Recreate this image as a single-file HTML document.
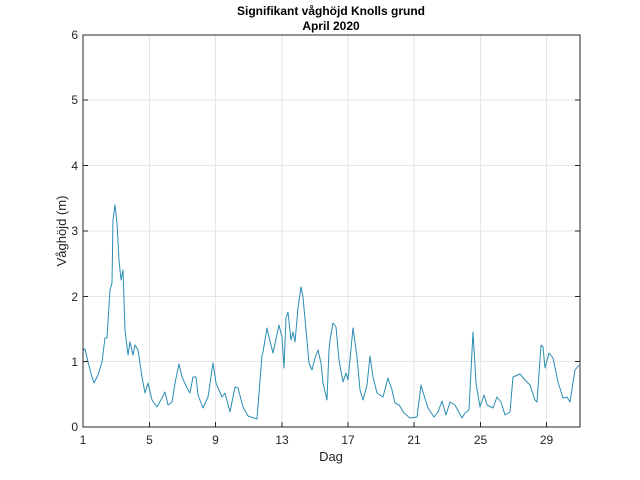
<!DOCTYPE html>
<html><head><meta charset="utf-8"><style>
body{margin:0;background:#fff;}
svg{display:block;font-family:"Liberation Sans",Arial,sans-serif;}
</style></head><body>
<svg width="640" height="480" viewBox="0 0 640 480">
<rect width="640" height="480" fill="#fff"/>
<g stroke="#e6e6e6" stroke-width="1">
<line x1="149.5" y1="35" x2="149.5" y2="427"/>
<line x1="215.5" y1="35" x2="215.5" y2="427"/>
<line x1="282" y1="35" x2="282" y2="427"/>
<line x1="348" y1="35" x2="348" y2="427"/>
<line x1="414" y1="35" x2="414" y2="427"/>
<line x1="480.5" y1="35" x2="480.5" y2="427"/>
<line x1="546.5" y1="35" x2="546.5" y2="427"/>
<line x1="83" y1="361.5" x2="580" y2="361.5"/>
<line x1="83" y1="296.5" x2="580" y2="296.5"/>
<line x1="83" y1="231" x2="580" y2="231"/>
<line x1="83" y1="165.5" x2="580" y2="165.5"/>
<line x1="83" y1="100" x2="580" y2="100"/>
</g>
<polyline fill="none" stroke="#2a8db2" stroke-width="1" stroke-linejoin="round" points="83,350 85,349 88,362 92,377 94,383 98,375 102,362 105,338 107,338 110,290 112,283 113,220 115,205 117,223 119,260 121,280 123,270 125,330 128,355 130,342 133,355 135,345 138,350 142,377 145,393 148,383 152,400 157,407 162,398 165,392 168,405 172,402 175,383 179,364 182,377 187,388 190,393 193,377 196,377 198,395 203,408 208,397 213,363 216,383 222,397 225,393 230,412 235,387 238,388 243,407 248,416 257,419 262,355 263,352 267,328 268,333 273,353 279,325 282,337 284,368 286,318 288,312 291,340 293,332 295,342 298,308 301,287 303,297 309,363 312,370 315,358 318,350 321,363 323,383 327,400 329,350 330,340 333,323 336,327 339,360 343,382 346,373 348,380 353,328 357,357 360,390 363,400 367,385 370,356 373,377 377,393 383,397 388,378 392,390 395,403 399,405 404,413 410,418 417,417 421,385 423,392 428,408 434,417 438,412 442,401 446,415 450,402 455,405 462,418 465,413 469,410 473,332 476,383 480,407 484,395 487,405 493,408 497,397 501,402 505,415 510,412 513,377 520,374 525,380 530,385 535,400 537,402 541,345 543,347 545,368 549,353 553,358 558,382 563,398 567,397 570,402 575,370 579,365"/>
<rect x="83" y="35" width="497" height="392" fill="none" stroke="#262626" stroke-width="1"/>
<g stroke="#262626" stroke-width="1">
<line x1="149.5" y1="427" x2="149.5" y2="422"/><line x1="215.5" y1="427" x2="215.5" y2="422"/><line x1="282" y1="427" x2="282" y2="422"/><line x1="348" y1="427" x2="348" y2="422"/><line x1="414" y1="427" x2="414" y2="422"/><line x1="480.5" y1="427" x2="480.5" y2="422"/><line x1="546.5" y1="427" x2="546.5" y2="422"/>
<line x1="83" y1="361.5" x2="88" y2="361.5"/><line x1="83" y1="296.5" x2="88" y2="296.5"/><line x1="83" y1="231" x2="88" y2="231"/><line x1="83" y1="165.5" x2="88" y2="165.5"/><line x1="83" y1="100" x2="88" y2="100"/>
<line x1="580" y1="361.5" x2="575" y2="361.5"/><line x1="580" y1="296.5" x2="575" y2="296.5"/><line x1="580" y1="231" x2="575" y2="231"/><line x1="580" y1="165.5" x2="575" y2="165.5"/><line x1="580" y1="100" x2="575" y2="100"/>
</g>
<g font-size="12" fill="#262626" text-anchor="middle">
<text x="83" y="444">1</text><text x="149.5" y="444">5</text><text x="215.5" y="444">9</text><text x="282" y="444">13</text><text x="348" y="444">17</text><text x="414" y="444">21</text><text x="480.5" y="444">25</text><text x="546.5" y="444">29</text>
</g>
<g font-size="12" fill="#262626" text-anchor="end">
<text x="78" y="431">0</text><text x="78" y="366">1</text><text x="78" y="301">2</text><text x="78" y="235">3</text><text x="78" y="170">4</text><text x="78" y="104">5</text><text x="78" y="39">6</text>
</g>
<text x="331" y="461" font-size="13" fill="#262626" text-anchor="middle">Dag</text>
<text transform="translate(66,231) rotate(-90)" font-size="13" fill="#262626" text-anchor="middle">Våghöjd (m)</text>
<text x="331" y="15" font-size="12" font-weight="bold" fill="#000" text-anchor="middle">Signifikant våghöjd Knolls grund</text>
<text x="331" y="30" font-size="12" font-weight="bold" fill="#000" text-anchor="middle">April 2020</text>
</svg>
</body></html>
